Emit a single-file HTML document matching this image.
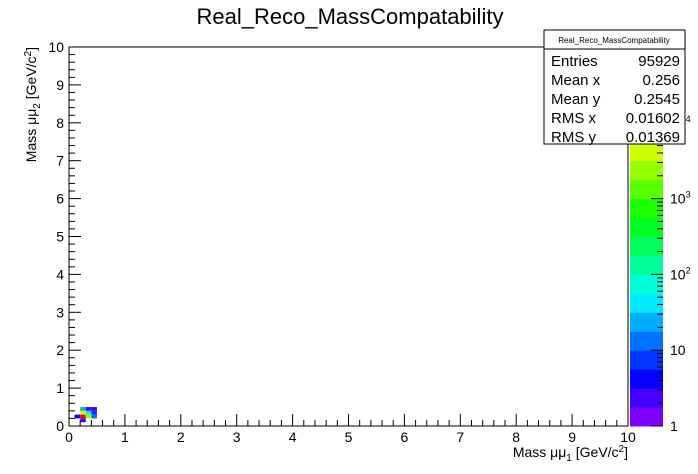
<!DOCTYPE html>
<html><head><meta charset="utf-8"><style>
body{margin:0;background:#fff;}
svg{display:block;font-family:"Liberation Sans",sans-serif;}
</style></head><body>
<svg id="c" width="698" height="474" viewBox="0 0 698 474">
<text x="350" y="24" font-size="22" text-anchor="middle">Real_Reco_MassCompatability</text>
<g id="cells"></g>
<g id="cbar"></g>
<rect x="69" y="47" width="559" height="379" fill="none" stroke="#000"/>
<g id="axes"></g>
<text x="628" y="457" font-size="14" text-anchor="end">Mass μμ<tspan font-size="10" dy="4">1</tspan><tspan dy="-4"> [GeV/c</tspan><tspan font-size="10" dy="-5">2</tspan><tspan dy="5">]</tspan></text>
<text transform="translate(36,47) rotate(-90)" font-size="14" text-anchor="end">Mass μμ<tspan font-size="10" dy="4">2</tspan><tspan dy="-4"> [GeV/c</tspan><tspan font-size="10" dy="-5">2</tspan><tspan dy="5">]</tspan></text>
<g>
<rect x="544" y="30" width="141" height="114" fill="#fff" stroke="#000"/>
<line x1="544" y1="49" x2="685" y2="49" stroke="#000"/>
<text x="614" y="43" font-size="8" text-anchor="middle">Real_Reco_MassCompatability</text>
<g font-size="15">
<text x="551" y="66">Entries</text><text x="680" y="66" text-anchor="end">95929</text>
<text x="551" y="85">Mean x</text><text x="680" y="85" text-anchor="end">0.256</text>
<text x="551" y="104">Mean y</text><text x="680" y="104" text-anchor="end">0.2545</text>
<text x="551" y="123">RMS x</text><text x="680" y="123" text-anchor="end">0.01602</text>
<text x="551" y="142">RMS y</text><text x="680" y="142" text-anchor="end">0.01369</text>
</g></g>
</svg>
<script>
const binX=[0.2,0.3,0.4, 0.2,0.3,0.4, 0.1,0.2,0.3,0.4, 0.2];
const binY=[0.4,0.4,0.4, 0.3,0.3,0.3, 0.2,0.2,0.2,0.2, 0.1];
const counts=[20,2,2, 5000,50,8, 4,60000,3000,12, 3];
const xTicks=[0,1,2,3,4,5,6,7,8,9,10];
const yTicks=[0,1,2,3,4,5,6,7,8,9,10];
const zTicks=[1,10,100,1000,10000];
const zMax=100000;
const NS="http://www.w3.org/2000/svg";
const X0=69,X1=628,Y0=426,Y1=47;
const sx=v=>X0+(X1-X0)*v/10, sy=v=>Y0-(Y0-Y1)*v/10;
const sz=v=>Y0-(Y0-Y1)*Math.log10(v)/Math.log10(zMax);
const nb=20;
function col(i){const h=270-270*i/(nb-1);return `hsl(${h},100%,50%)`;}
function zcol(v){let i=Math.floor(Math.log10(v)/Math.log10(zMax)*nb);i=Math.max(0,Math.min(nb-1,i));return col(i);}
function mk(t,a,p){const e=document.createElementNS(NS,t);for(const k in a)e.setAttribute(k,a[k]);p.appendChild(e);return e;}
const cells=document.getElementById('cells');
for(let i=0;i<counts.length;i++){
 const r=mk('rect',{x:sx(binX[i]),y:sy(binY[i]+0.1),width:sx(0.1)-sx(0),height:sy(0)-sy(0.1),fill:zcol(counts[i])},cells);
 
 
}
const cb=document.getElementById('cbar');
for(let i=0;i<nb;i++){
 const ya=Y0-(Y0-Y1)*i/nb, yb=Y0-(Y0-Y1)*(i+1)/nb;
 const r=mk('rect',{x:630,y:yb,width:33,height:ya-yb+0.5,fill:col(i)},cb);
 
 
}
const ax=document.getElementById('axes');
for(let d=0;d<5;d++)for(let m=1;m<10;m++){const v=m*Math.pow(10,d);if(v>zMax)continue;const y=sz(v);mk('line',{x1:663-(m==1?12:6),y1:y,x2:663,y2:y,stroke:'#000'},ax);}
zTicks.forEach(v=>{const t=mk('text',{x:670,y:sz(v)+5,'font-size':14},ax);
 if(v<100)t.textContent=v;else{t.textContent='10';const s=mk('tspan',{dy:-6,'font-size':9},t);s.textContent=Math.log10(v);}
 
 
});
for(let i=0;i<=50;i++){const v=i/5,x=sx(v),L=i%5==0?12:6;mk('line',{x1:x,y1:Y0,x2:x,y2:Y0-L,stroke:'#000'},ax);
 const y=sy(v);mk('line',{x1:X0,y1:y,x2:X0+L,y2:y,stroke:'#000'},ax);}
xTicks.forEach(v=>{const t=mk('text',{x:sx(v),y:442,'font-size':14,'text-anchor':'middle'},ax);t.textContent=v;
 
 });
yTicks.forEach(v=>{const t=mk('text',{x:64,y:sy(v)+5,'font-size':14,'text-anchor':'end'},ax);t.textContent=v;
 
 });
</script>
</body></html>
